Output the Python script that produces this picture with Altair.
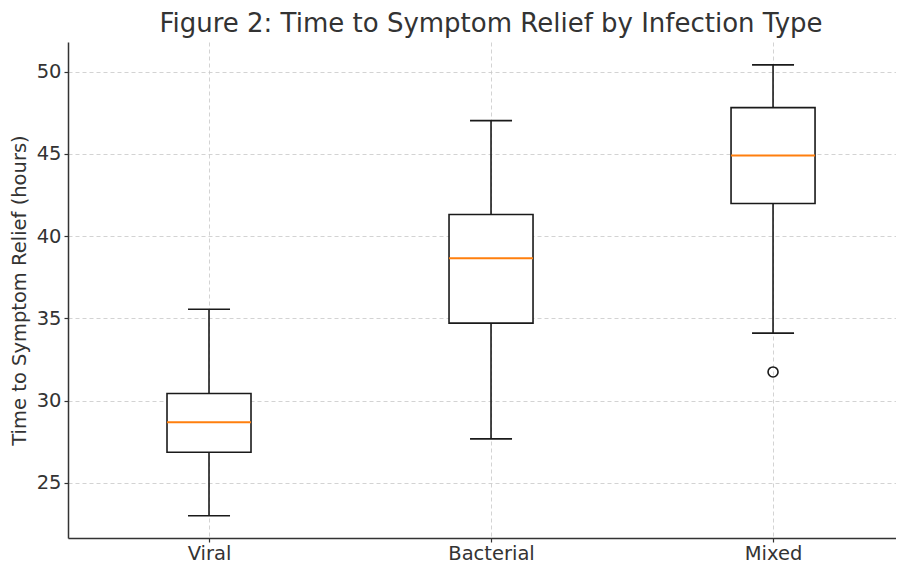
import altair as alt
import pandas as pd

categories = ["Viral", "Bacterial", "Mixed"]
positions = [1, 2, 3]
whisker_low = [22.99, 27.67, 34.10]
q1 = [26.86, 34.71, 41.99]
median = [28.68, 38.65, 44.90]
q3 = [30.43, 41.32, 47.82]
whisker_high = [35.55, 47.03, 50.42]
outlier_cat = ["Mixed"]
outlier_pos = [3]
outlier_val = [31.74]

df = pd.DataFrame({
    "cat": categories, "pos": positions, "lo": whisker_low, "q1": q1,
    "med": median, "q3": q3, "hi": whisker_high,
})
dfo = pd.DataFrame({"cat": outlier_cat, "pos": outlier_pos, "val": outlier_val})

FONT = "DejaVu Sans"
xscale = alt.Scale(domain=[0.5, 3.436], nice=False, zero=False, padding=0)
yscale = alt.Scale(domain=[21.64, 51.81], nice=False, zero=False, padding=0)

label_expr = "datum.value == 1 ? 'Viral' : datum.value == 2 ? 'Bacterial' : datum.value == 3 ? 'Mixed' : ''"

xax = alt.X("pos:Q", scale=xscale, title=None,
            axis=alt.Axis(values=positions, labelExpr=label_expr))
yax = alt.Y("q1:Q", scale=yscale, title="Time to Symptom Relief (hours)",
            axis=alt.Axis(values=[25, 30, 35, 40, 45, 50]))

INK = "#1a1a1a"
box = alt.Chart(df).mark_bar(size=84, fill="white", stroke=INK, strokeWidth=1.6).encode(
    x=xax, y=yax, y2="q3:Q")
whisk_lo = alt.Chart(df).mark_rule(color=INK, strokeWidth=1.6).encode(
    x="pos:Q", y="lo:Q", y2="q1:Q")
whisk_hi = alt.Chart(df).mark_rule(color=INK, strokeWidth=1.6).encode(
    x="pos:Q", y="q3:Q", y2="hi:Q")
cap_lo = alt.Chart(df).mark_tick(orient="horizontal", size=42, thickness=1.6, color=INK, opacity=1).encode(
    x="pos:Q", y="lo:Q")
cap_hi = alt.Chart(df).mark_tick(orient="horizontal", size=42, thickness=1.6, color=INK, opacity=1).encode(
    x="pos:Q", y="hi:Q")
med_tick = alt.Chart(df).mark_tick(orient="horizontal", size=84, thickness=2, color="#ff7f0e", opacity=1).encode(
    x="pos:Q", y="med:Q")
outl = alt.Chart(dfo).mark_point(shape="circle", filled=False, size=100, color=INK, strokeWidth=1.6, opacity=1).encode(
    x="pos:Q", y="val:Q")

chart = alt.layer(box, whisk_lo, whisk_hi, cap_lo, cap_hi, med_tick, outl).properties(
    width=828, height=496,
    autosize=alt.AutoSizeParams(type="none"),
    padding={"left": 60, "top": 34, "right": 0, "bottom": 25},
    title=alt.TitleParams("Figure 2: Time to Symptom Relief by Infection Type",
                          font=FONT, fontSize=26, fontWeight="normal", color="#333333",
                          anchor="middle", dx=9, offset=5),
).configure_view(stroke=None).configure_axis(
    labelFont=FONT, titleFont=FONT, labelFontSize=19.5, titleFontSize=19.5,
    labelColor="#333333", titleColor="#333333", titleFontWeight="normal",
    domainColor="#333333", domainWidth=1.5, tickColor="#333333", tickSize=4,
    tickWidth=1.2, labelPadding=3,
    grid=True, gridColor="#c8c8c8", gridDash=[4, 3], gridWidth=0.8,
).configure_axisY(titlePadding=7).configure_axisX(labelPadding=2)

chart.save("out.html", embed_options={"renderer": "svg", "actions": False})
